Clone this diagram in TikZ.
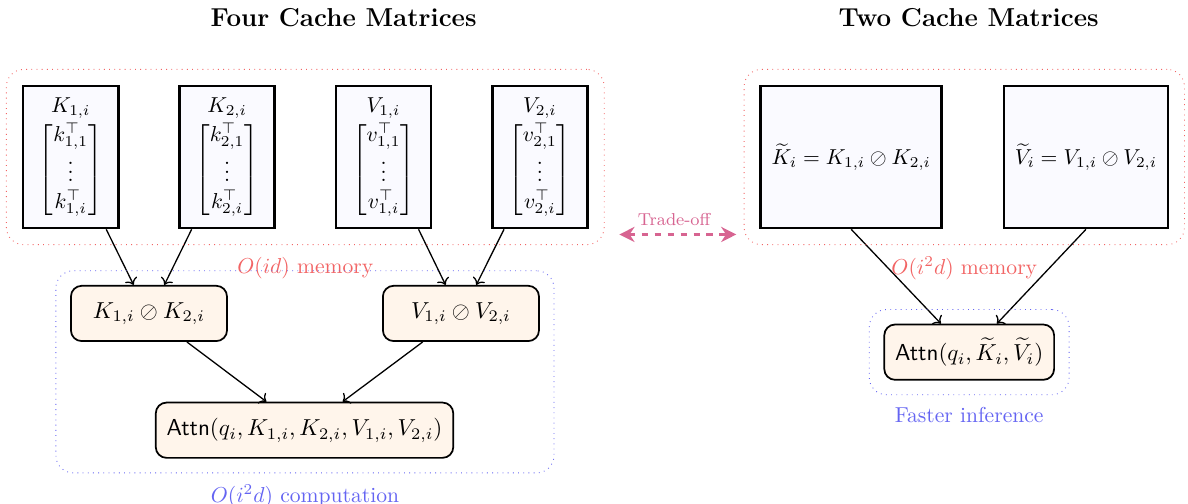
\RequirePackage{fix-cm}
\documentclass[tikz,border=0pt]{standalone}
\usepackage{amsmath}
\usepackage{amssymb}
\usepackage{tikz}
\usetikzlibrary{arrows.meta, positioning, calc, fit}

\definecolor{memred}{RGB}{242,100,100}
\definecolor{compblue}{RGB}{100,100,242}
\definecolor{tradecol}{RGB}{215,100,145}

\tikzset{
    matbox/.style={draw, very thick, fill=blue!2, align=center, minimum width=1.55cm, minimum height=2.31cm, inner sep=5pt},
    opbox/.style={draw, thick, fill=orange!8, rounded corners=5pt, minimum width=2.54cm, minimum height=0.9cm, inner sep=5pt,
        font=\fontsize{10.7}{13}\selectfont},
    membox/.style={draw=memred, dotted, rounded corners=8pt, inner sep=0.25cm},
    compbox/.style={draw=compblue, dotted, rounded corners=8pt, inner sep=0.23cm},
    arr/.style={->, semithick},
    tradeoff/.style={{Stealth[length=7pt, width=7pt]}-{Stealth[length=7pt, width=7pt]}, very thick, dashed, tradecol}
}

\begin{document}
\begin{tikzpicture}
    \useasboundingbox (0,0) rectangle (19.33,-8.2);

    \node[font=\large\bfseries] (titleL) at (5.59,-0.29) {Four Cache Matrices};
    \node[font=\large\bfseries] (titleR) at (15.76,-0.29) {Two Cache Matrices};

    % four cache matrices
    \foreach \nm/\M/\lo/\j/\x in {k1/K/k/1/1.15, k2/K/k/2/3.695, v1/V/v/1/6.24, v2/V/v/2/8.785}
        \node[matbox] (\nm) at (\x,-2.555)
            {$\M_{\j,i}$\\[1pt]$\begin{bmatrix} \lo_{\j,1}^\top \\ \vdots \\ \lo_{\j,i}^\top \end{bmatrix}$};

    \node[opbox] (kop) at (2.424,-5.10) {$K_{1,i} \oslash K_{2,i}$};
    \node[opbox] (vop) at (7.50,-5.10) {$V_{1,i} \oslash V_{2,i}$};
    \node[opbox] (attn) at (4.955,-7.00) {\textsf{Attn}$(q_i, K_{1,i}, K_{2,i}, V_{1,i}, V_{2,i})$};

    \draw[arr] (k1) -- ([xshift=-0.25cm]kop.north);
    \draw[arr] (k2) -- ([xshift=0.25cm]kop.north);
    \draw[arr] (v1) -- ([xshift=-0.25cm]vop.north);
    \draw[arr] (v2) -- ([xshift=0.25cm]vop.north);
    \draw[arr] (kop) -- ([xshift=-0.62cm]attn.north);
    \draw[arr] (vop) -- ([xshift=0.62cm]attn.north);

    \node[membox, fit=(k1)(k2)(v1)(v2),
        label={[text=memred, label distance=2pt]below:$O(id)$ memory}] (memL) {};
    \node[compbox, fit=(kop)(vop)(attn),
        label={[text=compblue, label distance=2pt]below:$O(i^2d)$ computation}] (compL) {};

    % two cache matrices
    \node[matbox] (kt) at (13.85,-2.555) {$\widetilde{K}_i = K_{1,i} \oslash K_{2,i}$};
    \node[matbox] (vt) at (17.67,-2.555) {$\widetilde{V}_i = V_{1,i} \oslash V_{2,i}$};
    \node[opbox, minimum width=2.3cm] (attnr) at (15.77,-5.73) {\textsf{Attn}$(q_i, \widetilde{K}_i, \widetilde{V}_i)$};

    \draw[arr] (kt.south) -- ([xshift=-0.46cm]attnr.north);
    \draw[arr] (vt.south) -- ([xshift=0.45cm]attnr.north);

    \node[membox, fit=(kt)(vt),
        label={[text=memred, label distance=2pt]below:$O(i^2d)$ memory}] (memR) {};
    \node[compbox, fit=(attnr),
        label={[text=compblue, label distance=2pt]below:Faster inference}] (compR) {};

    \draw[tradeoff, shorten <=0.24cm, shorten >=0.12cm] ([yshift=-1.26cm]memL.east) -- ([yshift=-1.26cm]memR.west)
        node[midway, above, font=\footnotesize] {Trade-off};
\end{tikzpicture}
\end{document}
